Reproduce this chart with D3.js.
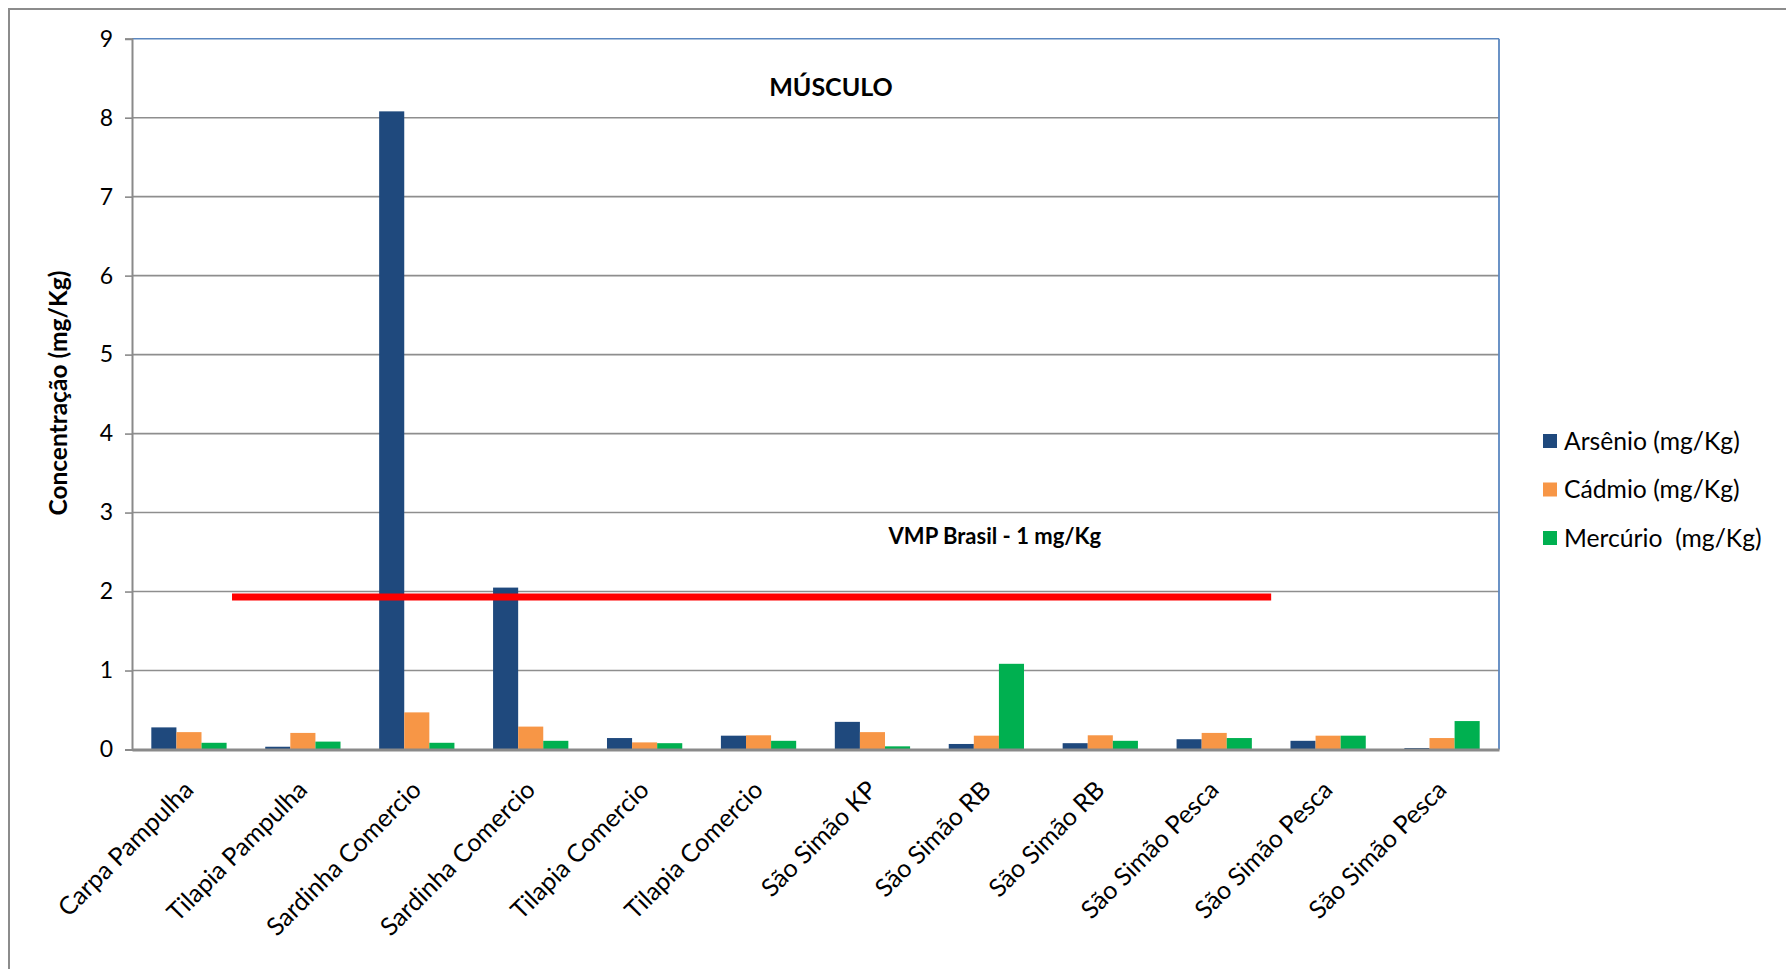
<!DOCTYPE html>
<html>
<head>
<meta charset="utf-8">
<script src="https://cdn.jsdelivr.net/npm/d3@7"></script>
<style>
  html, body { margin: 0; padding: 0; background: #fff; }
  svg { display: block; font-family: Lato, "Open Sans", sans-serif; }
</style>
</head>
<body>
<svg id="chart" width="1786" height="969"></svg>
<script>
// Sample sites (one group of bars each)
const categories = [
  "Carpa Pampulha", "Tilapia Pampulha", "Sardinha Comercio", "Sardinha Comercio",
  "Tilapia Comercio", "Tilapia Comercio", "São Simão KP", "São Simão RB",
  "São Simão RB", "São Simão Pesca", "São Simão Pesca", "São Simão Pesca"
];
// Concentrations in muscle tissue (mg/Kg)
const arsenio  = [0.28, 0.035, 8.08, 2.05, 0.145, 0.175, 0.35, 0.07, 0.08, 0.13, 0.11, 0.018];
const cadmio   = [0.22, 0.21, 0.47, 0.29, 0.09, 0.18, 0.22, 0.175, 0.18, 0.21, 0.175, 0.145];
const mercurio = [0.085, 0.10, 0.085, 0.11, 0.08, 0.11, 0.04, 1.085, 0.11, 0.145, 0.175, 0.36];
const seriesNames = ["Arsênio (mg/Kg)", "Cádmio (mg/Kg)", "Mercúrio  (mg/Kg)"];
const seriesColors = ["#1F497D", "#F79646", "#00B050"];
const yTicks = [0, 1, 2, 3, 4, 5, 6, 7, 8, 9];
// Reference limit line and the category span it covers
const vmpValue = 1.93;
const vmpSpan = [0.878, 10.0];
const vmpLabel = "VMP Brasil - 1 mg/Kg";
const titleText = "MÚSCULO";
const yLabel = "Concentração (mg/Kg)";

const svg = d3.select("#chart");
const m = { left: 132, right: 1499, top: 38.7, bottom: 749.5 };

// Outer chart frame
svg.append("rect")
  .attr("x", 9).attr("y", 9).attr("width", 1900).attr("height", 1100)
  .attr("fill", "none").attr("stroke", "#8c8c8c").attr("stroke-width", 2);

const x = d3.scaleBand().domain(d3.range(categories.length)).range([m.left, m.right]).padding(0);
const xPos = d3.scaleLinear().domain([0, categories.length]).range([m.left, m.right]);
const y = d3.scaleLinear().domain([0, 9]).range([m.bottom, m.top]);

// Horizontal gridlines
svg.append("g").selectAll("line").data(yTicks.filter(d => d > 0 && d < 9)).join("line")
  .attr("x1", m.left).attr("x2", m.right)
  .attr("y1", d => y(d)).attr("y2", d => y(d))
  .attr("stroke", "#8e8e8e").attr("stroke-width", 1.6);

// Plot frame: top and right edges
svg.append("line").attr("x1", m.left).attr("x2", m.right).attr("y1", y(9)).attr("y2", y(9))
  .attr("stroke", "#5b87c0").attr("stroke-width", 1.6);
svg.append("line").attr("x1", m.right).attr("x2", m.right).attr("y1", y(9)).attr("y2", y(0))
  .attr("stroke", "#5b87c0").attr("stroke-width", 1.8);

// Bars
const inner = d3.scaleBand().domain([0, 1, 2])
  .range([0, x.bandwidth()]).paddingInner(0).paddingOuter(0.77);
const allSeries = [arsenio, cadmio, mercurio];
allSeries.forEach((vals, si) => {
  svg.append("g").selectAll("rect").data(vals).join("rect")
    .attr("x", (d, i) => x(i) + inner(si))
    .attr("width", inner.bandwidth())
    .attr("y", d => y(d))
    .attr("height", d => y(0) - y(d))
    .attr("fill", seriesColors[si]);
});

// Y axis
const yAxis = d3.axisLeft(y).tickValues(yTicks).tickSize(7).tickPadding(12).tickFormat(d3.format("d"));
const gy = svg.append("g").attr("transform", `translate(${m.left},0)`).call(yAxis);
gy.select(".domain").attr("stroke", "#8a8a8a").attr("stroke-width", 2);
gy.selectAll(".tick line").attr("stroke", "#8a8a8a").attr("stroke-width", 1.6);
gy.selectAll(".tick text").attr("font-size", 23).attr("fill", "#000")
  .attr("font-family", "Lato, sans-serif");

// X axis
const xAxis = d3.axisBottom(x).tickSize(0).tickFormat(i => categories[i]);
const gx = svg.append("g").attr("transform", `translate(0,${m.bottom})`).call(xAxis);
gx.select(".domain").attr("stroke", "#8a8a8a").attr("stroke-width", 3);
gx.selectAll(".tick text")
  .attr("font-size", 25).attr("fill", "#000").attr("font-family", "Lato, sans-serif")
  .attr("text-anchor", "end").attr("dy", 0).attr("y", 0)
  .attr("transform", "translate(6,42) rotate(-45)");

// Reference limit line
svg.append("line")
  .attr("x1", xPos(vmpSpan[0])).attr("x2", xPos(vmpSpan[1]))
  .attr("y1", y(vmpValue)).attr("y2", y(vmpValue))
  .attr("stroke", "#FF0000").attr("stroke-width", 7);
svg.append("text")
  .attr("x", xPos(7.575)).attr("y", y(2.6))
  .attr("text-anchor", "middle").attr("font-weight", "bold").attr("font-size", 22)
  .attr("font-family", "Lato, sans-serif")
  .text(vmpLabel);

// Title
svg.append("text").attr("x", 831).attr("y", 96)
  .attr("text-anchor", "middle").attr("font-weight", "bold").attr("font-size", 25)
  .text(titleText);

// Y axis title
svg.append("text")
  .attr("transform", `translate(67,${(m.top + m.bottom) / 2 - 1}) rotate(-90)`)
  .attr("text-anchor", "middle").attr("font-weight", "bold").attr("font-size", 24.5)
  .text(yLabel);

// Legend
const legend = svg.append("g").attr("transform", "translate(1543,441)");
seriesNames.forEach((name, i) => {
  const row = legend.append("g").attr("transform", `translate(0,${i * 48.5})`);
  row.append("rect").attr("x", 0).attr("y", -7).attr("width", 14).attr("height", 14)
    .attr("fill", seriesColors[i]);
  row.append("text").attr("x", 21).attr("y", 0).attr("dy", "0.35em")
    .attr("font-size", 24.7).attr("xml:space", "preserve").style("white-space", "pre")
    .text(name);
});
</script>
</body>
</html>
